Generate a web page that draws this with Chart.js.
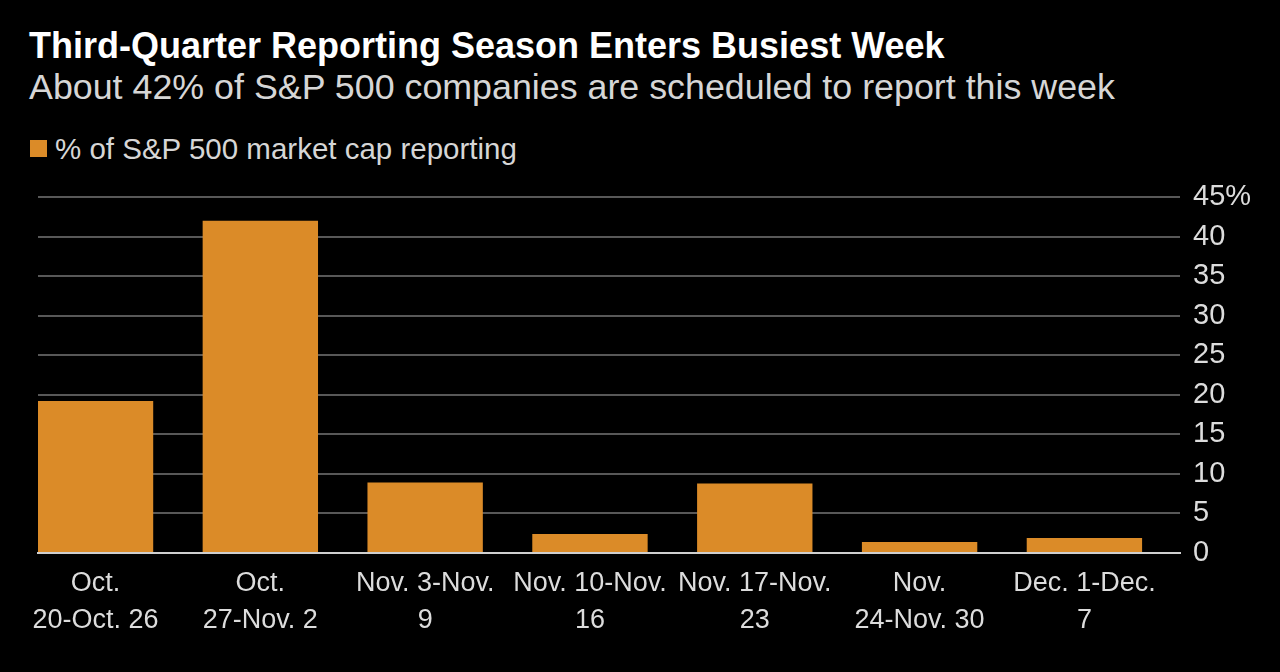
<!DOCTYPE html>
<html>
<head>
<meta charset="utf-8">
<style>
    body { margin: 0; background: #000; font-family: "Liberation Sans", Arial, sans-serif; }
    #wrap { position: relative; width: 1280px; height: 672px; overflow: hidden; background: #000; }
    .txt { position: absolute; white-space: nowrap; line-height: normal; }
</style>
</head>
<body>
<div id="wrap">
    <div class="txt" style="left: 29px; top: 25px; font-size: 36px; font-weight: bold; color: #fff;">Third-Quarter Reporting Season Enters Busiest Week</div>
    <div class="txt" style="left: 29px; top: 67px; font-size: 35.8px; color: #d6d6d6;">About 42% of S&amp;P 500 companies are scheduled to report this week</div>
    <div class="txt" style="left: 30px; top: 140px; width: 17px; height: 17px; background: #DB8B28;"></div>
    <div class="txt" style="left: 55px; top: 132px; font-size: 29.5px; color: #d6d6d6;">% of S&amp;P 500 market cap reporting</div>
    <canvas id="chart" width="1280" height="672" style="position: absolute; left: 0; top: 0;"></canvas>
</div>

<script src="https://cdn.jsdelivr.net/npm/chart.js@4/dist/chart.umd.min.js"></script>
<script>
// Données
const weeks = [
    ['Oct.', '20-Oct. 26'],
    ['Oct.', '27-Nov. 2'],
    ['Nov. 3-Nov.', '9'],
    ['Nov. 10-Nov.', '16'],
    ['Nov. 17-Nov.', '23'],
    ['Nov.', '24-Nov. 30'],
    ['Dec. 1-Dec.', '7']
];
const capReporting = [19.2, 42.0, 8.9, 2.4, 8.8, 1.4, 1.9];
const yTicks = [0, 5, 10, 15, 20, 25, 30, 35, 40, 45];

const barColor = '#DB8B28';
const textColor = '#dcdcdc';
const fontFamily = '"Liberation Sans", Arial, sans-serif';

const ctx = document.getElementById('chart').getContext('2d');
new Chart(ctx, {
    type: 'bar',
    data: {
        datasets: [{
            label: '% of S&P 500 market cap reporting',
            data: capReporting.map((v, i) => ({ x: i, y: v })),
            backgroundColor: barColor,
            borderWidth: 0,
            categoryPercentage: 1.0,
            barPercentage: 0.7
        }]
    },
    options: {
        responsive: false,
        animation: false,
        layout: { padding: { top: 197, left: 38, right: 0, bottom: 0 } },
        plugins: {
            legend: { display: false },
            tooltip: { enabled: false }
        },
        scales: {
            x: {
                type: 'linear',
                offset: false,
                min: -0.349,
                max: 6.58,
                afterBuildTicks: scale => { scale.ticks = weeks.map((_, i) => ({ value: i })); },
                afterFit: scale => { scale.height = 119; },
                grid: { display: false },
                border: { display: true, color: '#cfcfcf', width: 2 },
                ticks: {
                    color: textColor,
                    padding: 4,
                    maxRotation: 0,
                    autoSkip: false,
                    font: { family: fontFamily, size: 27, lineHeight: 1.37 },
                    callback: v => weeks[v]
                }
            },
            y: {
                position: 'right',
                min: 0,
                max: 45,
                afterBuildTicks: scale => { scale.ticks = yTicks.map(v => ({ value: v })); },
                afterFit: scale => { scale.width = 100; },
                grid: { color: '#585858', lineWidth: 2, drawTicks: false },
                border: { display: false },
                ticks: {
                    color: textColor,
                    padding: 13,
                    font: { family: fontFamily, size: 29 },
                    callback: v => v === 45 ? '45%' : v
                }
            }
        }
    }
});
</script>
</body>
</html>
